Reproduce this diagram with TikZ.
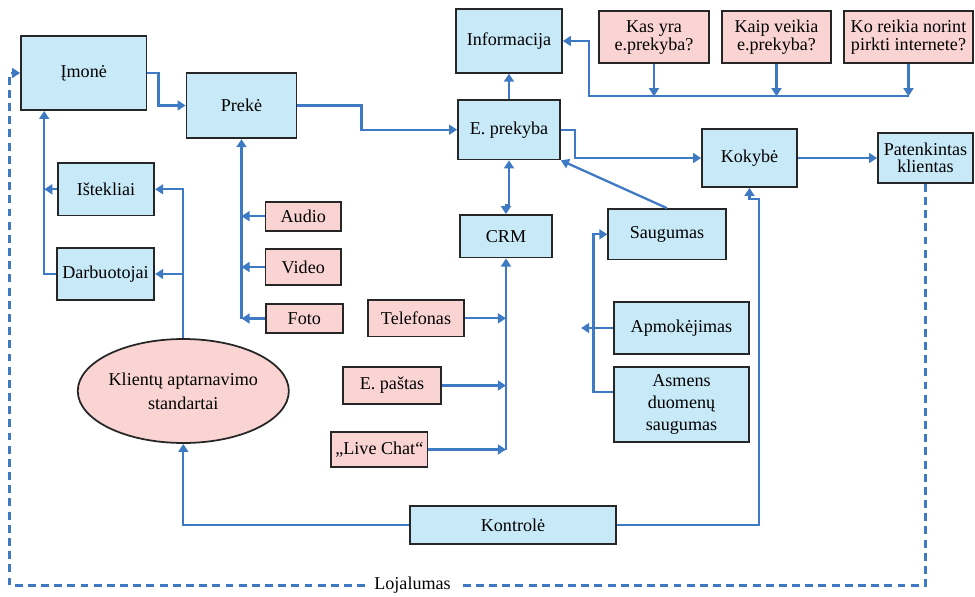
\documentclass[tikz,border=0pt]{standalone}
\usepackage{fontspec}
\setmainfont{Liberation Serif}
\usetikzlibrary{arrows.meta,shapes.geometric}
\definecolor{boxblue}{RGB}{200,233,248}
\definecolor{boxpink}{RGB}{250,212,211}
\definecolor{linkblue}{RGB}{62,121,196}
\tikzset{
	defaultstyle/.style={
		>={Triangle[length=4.6pt,width=5.6pt]},
		x=0.02cm,
		y=-0.02cm,
		font=\fontsize{10.3}{10}\selectfont}}

\begin{document}
\begin{tikzpicture}[defaultstyle,
	every text node part/.style={align=center},
	bluebox/.style={draw=black!85, line width=1pt, fill=boxblue, inner sep=1pt},
	pinkbox/.style={bluebox, fill=boxpink},
	link/.style={->, draw=linkblue, line width=1.3pt},
	]

	\useasboundingbox (0,0) rectangle (975,596);

	\node[bluebox, minimum width=2.51cm, minimum height=1.48cm] (imone) at (83.75, 73) {Įmonė};
	\node[bluebox, minimum width=2.2cm, minimum height=1.31cm] (preke) at (241.5, 105.5) {Prekė};
	\node[bluebox, minimum width=2.12cm, minimum height=1.27cm] (informacija) at (509, 41) {Informacija};
	\node[bluebox, minimum width=2.04cm, minimum height=1.19cm] (eprekyba) at (509, 129.7) {E. prekyba};
	\node[bluebox, minimum width=1.9cm, minimum height=1.16cm] (kokybe) at (749.5, 158) {Kokybė};
	\node[bluebox, minimum width=1.9cm, minimum height=1cm] (patenkintas) at (925.5, 158) {Patenkintas\\klientas};

	\node[pinkbox, minimum width=2.2cm, minimum height=1.04cm] (kas) at (654, 37.3) {Kas yra\\e.prekyba?};
	\node[pinkbox, minimum width=2.18cm, minimum height=1.04cm] (kaip) at (776.5, 37.3) {Kaip veikia\\e.prekyba?};
	\node[pinkbox, minimum width=2.58cm, minimum height=1.04cm] (ko) at (908.5, 37.3) {Ko reikia norint\\pirkti internete?};

	\node[bluebox, minimum width=1.93cm, minimum height=1.05cm] (istekliai) at (106, 189.3) {Ištekliai};
	\node[bluebox, minimum width=1.95cm, minimum height=1.04cm] (darbuotojai) at (105.5, 274) {Darbuotojai};

	\node[pinkbox, minimum width=1.51cm, minimum height=0.58cm] (audio) at (303.3, 216.2) {Audio};
	\node[pinkbox, minimum width=1.51cm, minimum height=0.72cm] (video) at (303.3, 267) {Video};
	\node[pinkbox, minimum width=1.54cm, minimum height=0.58cm] (foto) at (304.3, 318.5) {Foto};

	\node[bluebox, minimum width=1.85cm, minimum height=0.85cm] (crm) at (506, 236.3) {CRM};
	\node[pinkbox, minimum width=1.92cm, minimum height=0.73cm] (telefonas) at (416, 318.3) {Telefonas};
	\node[pinkbox, minimum width=1.96cm, minimum height=0.74cm] (epastas) at (392, 385.5) {E. paštas};
	\node[pinkbox, minimum width=1.93cm, minimum height=0.7cm] (livechat) at (379.3, 449.5) {„Live Chat“};

	\node[bluebox, minimum width=2.35cm, minimum height=1.01cm] (saugumas) at (667, 234.3) {Saugumas};
	\node[bluebox, minimum width=2.7cm, minimum height=1.04cm] (apmokejimas) at (681.5, 328) {Apmokėjimas};
	\node[bluebox, minimum width=2.7cm, minimum height=1.5cm,
		font=\fontsize{10.3}{12.5}\selectfont] (asmens) at (681.5, 404.5) {Asmens\\duomenų\\saugumas};

	\node[pinkbox, ellipse, inner sep=0pt, minimum width=3.74cm, minimum height=2.08cm,
		font=\fontsize{10.3}{13.7}\selectfont] (klientu) at (183.3, 391) {Klientų aptarnavimo\\standartai};
	\node[bluebox, minimum width=4.12cm, minimum height=0.77cm] (kontrole) at (513, 525) {Kontrolė};

	\coordinate (bus) at (589, 96.3);
	\coordinate (lojal) at (9.5, 585.5);

	% top row
	\draw[link] (imone.east) -- ++(11,0) |- (preke.west);
	\draw[link] (preke.east) -- ++(64,0) |- (eprekyba.west);
	\draw[link] (eprekyba) -- (informacija);
	\draw[link] (kas.south) -- (kas.south |- bus);
	\draw[link] (kaip.south) -- (kaip.south |- bus);
	\draw[link] (ko.south) -- (ko.south |- bus);
	\draw[link] (ko.south |- bus) -- (bus) |- (informacija.east);
	\draw[link] (eprekyba.east) -- ++(14,0) |- (kokybe.west);
	\draw[link] (kokybe) -- (patenkintas);

	% left side
	\draw[link] (darbuotojai.west) -- ++(-11.7,0) coordinate (dl) -- (dl |- imone.south);
	\draw[link] (istekliai.west) -- (istekliai.west -| dl);
	\draw[link] (klientu.north) |- (istekliai.east);
	\draw[link] (klientu.north |- darbuotojai.east) -- (darbuotojai.east);

	\draw[link] (foto.west -| preke.south) -- (preke.south);
	\draw[link] (audio.west) -- (audio.west -| preke.south);
	\draw[link] (video.west) -- (video.west -| preke.south);
	\draw[link] (foto.west) -- (foto.west -| preke.south);

	% CRM
	\draw[link, <->] (eprekyba.south) -- ++(0,45) -| (crm.north);
	\draw[link] (livechat.east -| crm.south) -- (crm.south);
	\draw[link] (telefonas.east) -- (telefonas.east -| crm.south);
	\draw[link] (epastas.east) -- (epastas.east -| crm.south);
	\draw[link] (livechat.east) -- (livechat.east -| crm.south);

	% saugumas
	\draw[link] (saugumas.north) -- (eprekyba.south east);
	\draw[link] ([shift={(0,-12.5)}]asmens.west) -- ++(-19.5,0) |- (saugumas.west);
	\draw[link] (apmokejimas.west) -- ++(-32,0) coordinate (apend);

	% kontrole
	\draw[link] (kontrole.west) -| (klientu.south);
	\draw[link] (kontrole.east) -| ([shift={(9.5,11)}]kokybe.south) -| (kokybe.south);

	\draw[link, dash pattern=on 4.5pt off 3pt] (patenkintas.south) |- node[pos=0.78, fill=white, inner xsep=5pt, text=black] (lojalumas) {Lojalumas} (lojal) |- (imone.west);

\end{tikzpicture}
\end{document}
